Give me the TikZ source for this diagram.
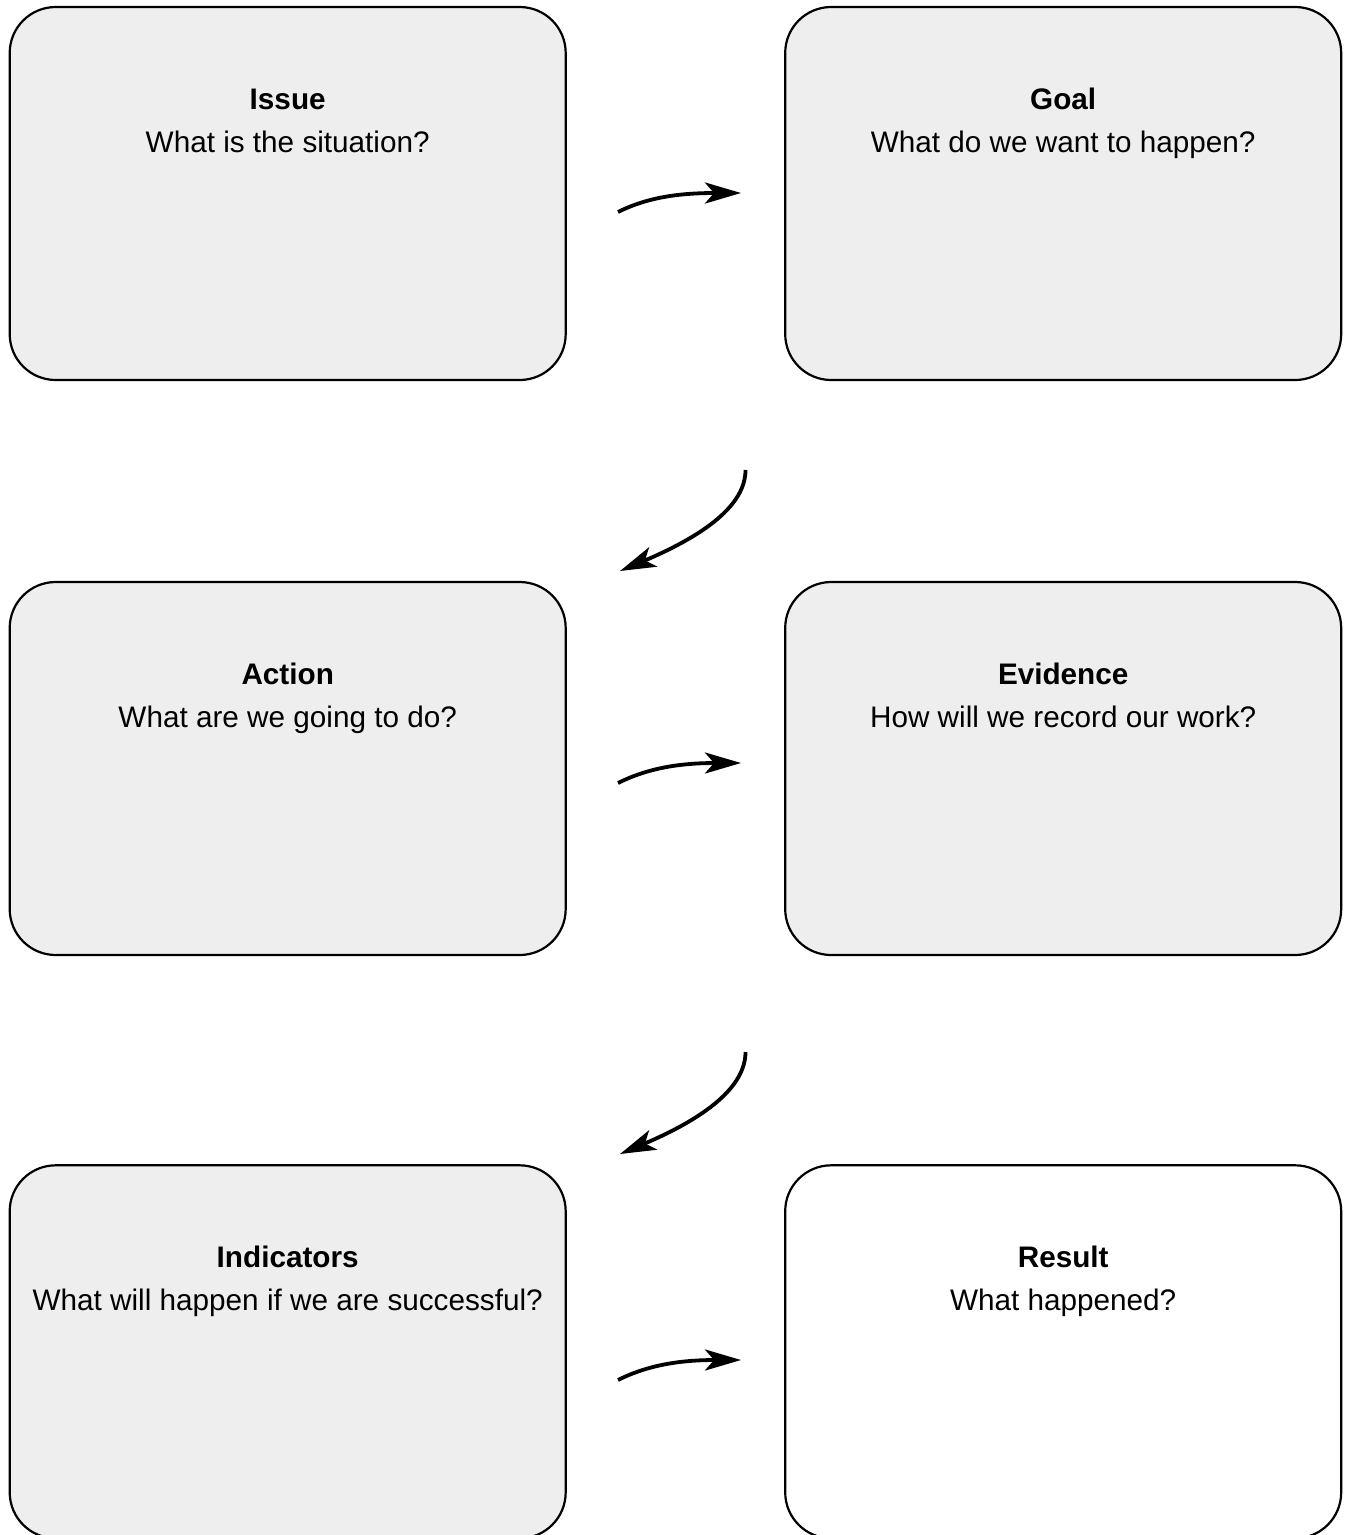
\documentclass[tikz,border=0pt]{standalone}
\usepackage{fontspec}
\setmainfont{Liberation Sans}
\usetikzlibrary{arrows.meta}
\definecolor{boxgray}{HTML}{EEEEEE}
\tikzset{
  card/.style={draw=black, line width=2.2pt, rounded corners=46pt, fill=boxgray,
    minimum width=556pt, minimum height=373pt, inner sep=0pt},
  lastcard/.style={card, fill=white},
  heading/.style={anchor=base, inner sep=0pt, font=\fontsize{29.7}{36}\selectfont\bfseries},
  question/.style={anchor=base, inner sep=0pt, font=\fontsize{29.7}{36}\selectfont},
  flow/.style={line width=3.8pt, -{Stealth[length=36pt, width=21pt, inset=9pt]}}
}
\begin{document}
\begin{tikzpicture}[x=1pt, y=-1pt]
\useasboundingbox (0,0) rectangle (1345,1535);
\clip (0,0) rectangle (1345,1535);
% boxes
\node[card] (issue) at (287.7,193.5) {};
\node[card] (goal) at (1063.2,193.5) {};
\node[card] (action) at (287.7,768.5) {};
\node[card] (evidence) at (1063.2,768.5) {};
\node[card] (indicators) at (287.7,1351.8) {};
\node[lastcard] (result) at (1063.2,1351.8) {};
% texts
\node[heading] (issueT) at (287.7,109) {Issue};
\node[question] (issueQ) at (287.7,152) {What is the situation?};
\node[heading] (goalT) at (1063.2,109) {Goal};
\node[question] (goalQ) at (1063.2,152) {What do we want to happen?};
\node[heading] (actionT) at (287.7,684) {Action};
\node[question] (actionQ) at (287.7,727) {What are we going to do?};
\node[heading] (evidenceT) at (1063.2,684) {Evidence};
\node[question] (evidenceQ) at (1063.2,727) {How will we record our work?};
\node[heading] (indicatorsT) at (287.7,1267.3) {Indicators};
\node[question] (indicatorsQ) at (287.7,1310.3) {What will happen if we are successful?};
\node[heading] (resultT) at (1063.2,1267.3) {Result};
\node[question] (resultQ) at (1063.2,1310.3) {What happened?};
% arrow end points
\coordinate (a1s) at (618,212);  \coordinate (a1e) at (741,193);
\coordinate (a2s) at (745.5,470); \coordinate (a2e) at (620,571);
\coordinate (a3s) at (618,783);  \coordinate (a3e) at (741,763);
\coordinate (a4s) at (745.5,1052); \coordinate (a4e) at (620,1154);
\coordinate (a5s) at (618,1380); \coordinate (a5e) at (741,1360);
% arrows
\draw[flow] (a1s) .. controls (648,197) and (680,193) .. (a1e);
\draw[flow] (a2s) .. controls (745.5,505) and (705,535) .. (a2e);
\draw[flow] (a3s) .. controls (648,768) and (680,763) .. (a3e);
\draw[flow] (a4s) .. controls (745.5,1087) and (705,1118) .. (a4e);
\draw[flow] (a5s) .. controls (648,1365) and (680,1360) .. (a5e);
\end{tikzpicture}
\end{document}
